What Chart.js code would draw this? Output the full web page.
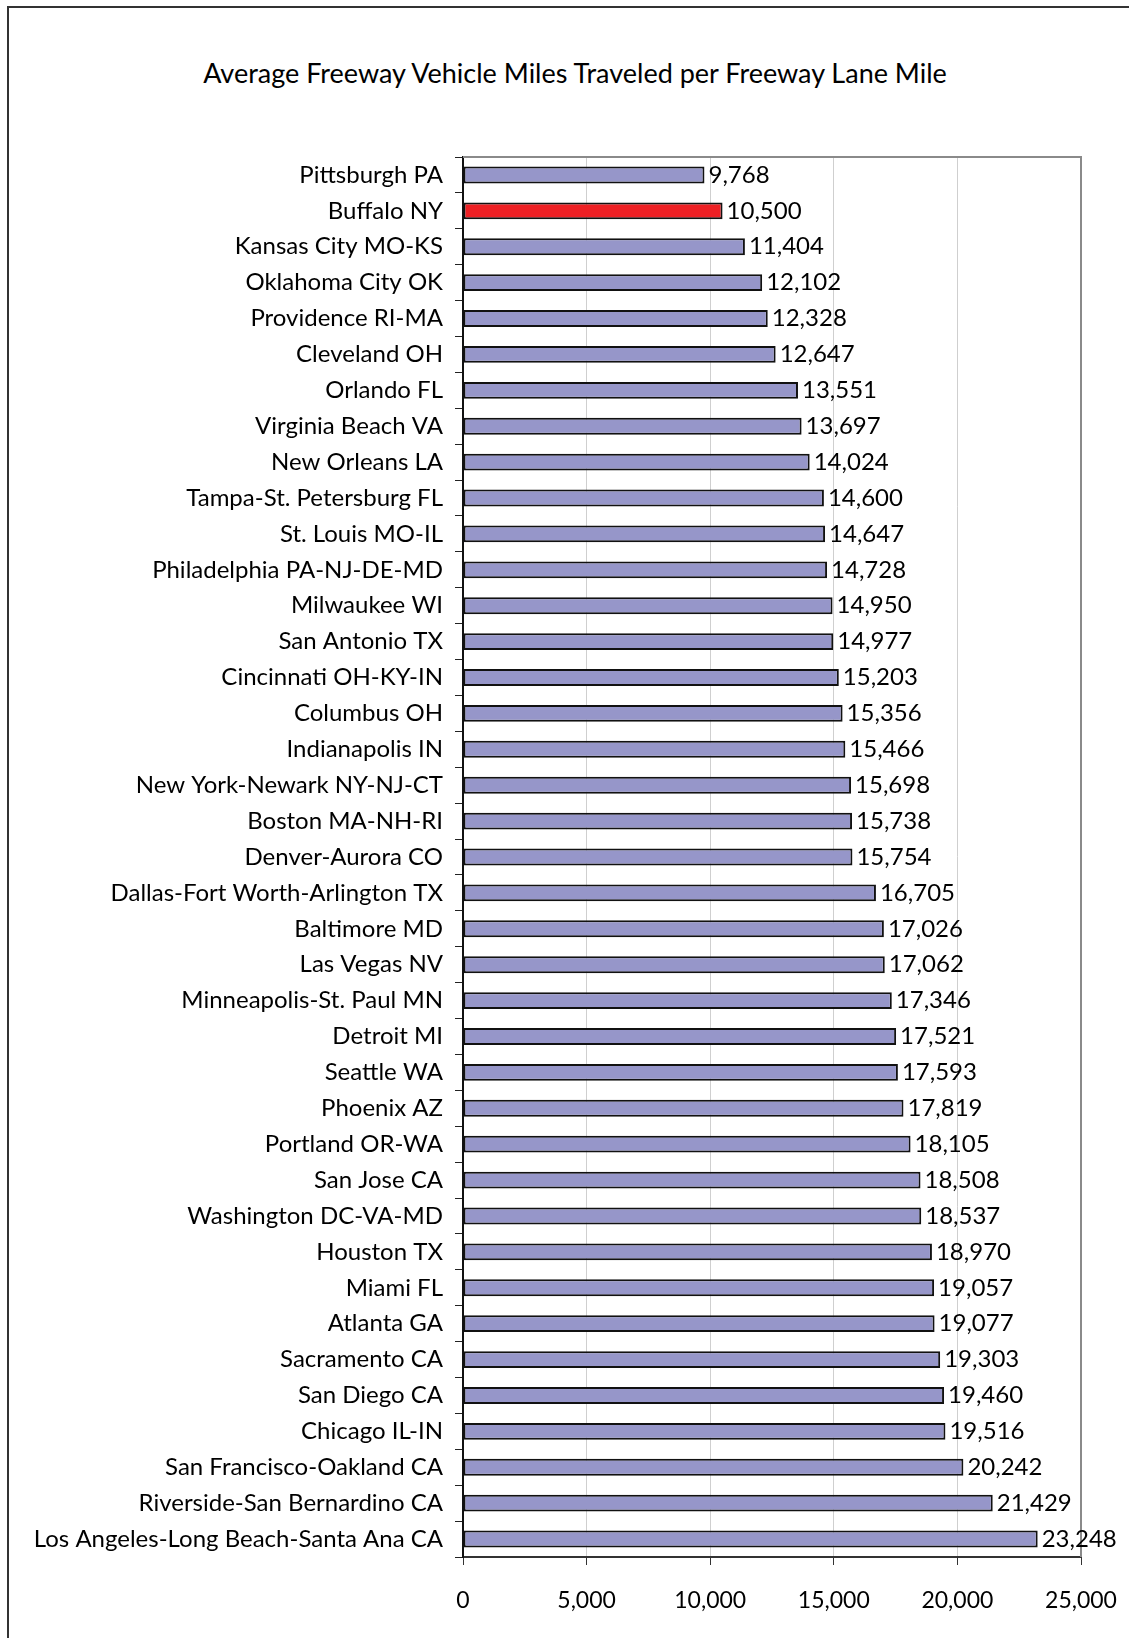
<!DOCTYPE html>
<html>
<head>
<meta charset="utf-8">
<script src="https://cdn.jsdelivr.net/npm/chart.js@4"></script>
<style>
  html, body { margin: 0; padding: 0; background: #fff; overflow: hidden; }
  #wrap { position: relative; width: 1129px; height: 1638px; }
  #frame {
    position: absolute; left: 7px; top: 6px; width: 1200px; height: 1700px;
    border-left: 2px solid #333; border-top: 2px solid #333;
  }
  #title {
    position: absolute; left: 0; top: 56px; width: 1150px; text-align: center;
    font: 27px Lato, 'Open Sans', sans-serif; color: #000; line-height: 34px;
  }
  #chart { position: absolute; left: 0; top: 0; }
</style>
</head>
<body>
<div id="wrap">
  <div id="frame"></div>
  <div id="title"></div>
  <canvas id="chart" width="1129" height="1638"></canvas>
</div>
<script>
const chartTitle = "Average Freeway Vehicle Miles Traveled per Freeway Lane Mile";

const cities = [
  "Pittsburgh PA", "Buffalo NY", "Kansas City MO-KS", "Oklahoma City OK",
  "Providence RI-MA", "Cleveland OH", "Orlando FL", "Virginia Beach VA",
  "New Orleans LA", "Tampa-St. Petersburg FL", "St. Louis MO-IL",
  "Philadelphia PA-NJ-DE-MD", "Milwaukee WI", "San Antonio TX",
  "Cincinnati OH-KY-IN", "Columbus OH", "Indianapolis IN",
  "New York-Newark NY-NJ-CT", "Boston MA-NH-RI", "Denver-Aurora CO",
  "Dallas-Fort Worth-Arlington TX", "Baltimore MD", "Las Vegas NV",
  "Minneapolis-St. Paul MN", "Detroit MI", "Seattle WA", "Phoenix AZ",
  "Portland OR-WA", "San Jose CA", "Washington DC-VA-MD", "Houston TX",
  "Miami FL", "Atlanta GA", "Sacramento CA", "San Diego CA", "Chicago IL-IN",
  "San Francisco-Oakland CA", "Riverside-San Bernardino CA",
  "Los Angeles-Long Beach-Santa Ana CA"
];

const vmtPerLaneMile = [
  9768, 10500, 11404, 12102, 12328, 12647, 13551, 13697, 14024, 14600,
  14647, 14728, 14950, 14977, 15203, 15356, 15466, 15698, 15738, 15754,
  16705, 17026, 17062, 17346, 17521, 17593, 17819, 18105, 18508, 18537,
  18970, 19057, 19077, 19303, 19460, 19516, 20242, 21429, 23248
];

const xTicks = [0, 5000, 10000, 15000, 20000, 25000];
const highlightCity = "Buffalo NY";

const FONT = "Lato, 'Open Sans', sans-serif";
const barFill = "#9696C9";
const highlightFill = "#EE2024";

// plot area edges in page pixels
const PLOT_LEFT = 463, PLOT_RIGHT = 1081, PLOT_TOP = 157, PLOT_BOTTOM = 1557;

document.getElementById("title").textContent = chartTitle;

// value labels to the right of every bar
const valueLabels = {
  id: "valueLabels",
  afterDatasetsDraw(chart) {
    const ctx = chart.ctx;
    const meta = chart.getDatasetMeta(0);
    ctx.save();
    ctx.font = "24px " + FONT;
    ctx.fillStyle = "#000";
    ctx.textAlign = "left";
    ctx.textBaseline = "middle";
    meta.data.forEach((bar, i) => {
      ctx.fillText(vmtPerLaneMile[i].toLocaleString("en-US"), bar.x + 4, bar.y);
    });
    ctx.restore();
  }
};

// grey frame on top and right of plot area
const plotFrame = {
  id: "plotFrame",
  beforeDatasetsDraw(chart) {
    const { ctx, chartArea: a } = chart;
    ctx.save();
    ctx.strokeStyle = "#8a8a8a";
    ctx.lineWidth = 2;
    ctx.beginPath();
    ctx.moveTo(a.left, a.top);
    ctx.lineTo(a.right, a.top);
    ctx.lineTo(a.right, a.bottom);
    ctx.stroke();
    ctx.restore();
  }
};

function noOverhang(s) {
  s.paddingLeft = 0;
  s.paddingRight = 0;
  s.paddingTop = 0;
  s.paddingBottom = 0;
}

new Chart(document.getElementById("chart"), {
  type: "bar",
  data: {
    labels: cities,
    datasets: [{
      data: vmtPerLaneMile,
      backgroundColor: cities.map(c => c === highlightCity ? highlightFill : barFill),
      borderColor: "#111",
      borderWidth: 2,
      borderSkipped: false,
      barPercentage: 0.47,
      categoryPercentage: 1
    }]
  },
  options: {
    indexAxis: "y",
    responsive: false,
    animation: false,
    layout: {
      padding: { left: 0, right: 1129 - PLOT_RIGHT, top: PLOT_TOP, bottom: 0 }
    },
    plugins: {
      legend: { display: false },
      tooltip: { enabled: false },
      title: { display: false }
    },
    scales: {
      x: {
        min: 0,
        max: 25000,
        afterBuildTicks: s => { s.ticks = xTicks.map(v => ({ value: v })); },
        afterFit: s => { s.height = 1638 - PLOT_BOTTOM; noOverhang(s); },
        grid: {
          color: "#cfcfcf",
          lineWidth: 1,
          tickColor: "#333",
          tickLength: 8
        },
        border: { color: "#333", width: 2 },
        ticks: {
          color: "#000",
          padding: 22,
          font: { family: FONT, size: 23 },
          callback: v => v.toLocaleString("en-US")
        }
      },
      y: {
        afterFit: s => { s.width = PLOT_LEFT; noOverhang(s); },
        grid: {
          drawOnChartArea: false,
          offset: true,
          tickColor: "#222",
          tickLength: 8
        },
        border: { color: "#111", width: 2 },
        ticks: {
          color: "#000",
          padding: 12,
          font: { family: FONT, size: 24 },
          autoSkip: false
        }
      }
    }
  },
  plugins: [plotFrame, valueLabels]
});
</script>
</body>
</html>
